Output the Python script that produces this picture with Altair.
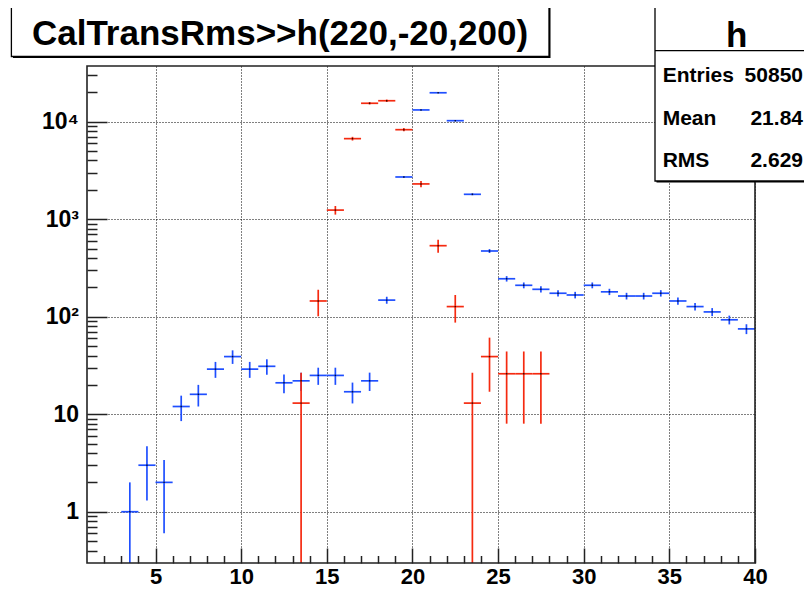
import altair as alt
import pandas as pd

# ---------------- data ----------------
blue_x = [3.5, 4.5, 5.5, 6.5, 7.5, 8.5, 9.5, 10.5, 11.5, 12.5, 13.5, 14.5, 15.5,
          16.5, 17.5, 18.5, 19.5, 20.5, 21.5, 22.5, 23.5, 24.5, 25.5, 26.5, 27.5,
          28.5, 29.5, 30.5, 31.5, 32.5, 33.5, 34.5, 35.5, 36.5, 37.5, 38.5, 39.5]
blue_y = [1, 3, 2, 12, 16, 29, 39, 29, 31, 21, 22, 25, 25,
          17, 22, 148, 2710, 13200, 19800, 10240, 1800, 472, 245, 210, 191,
          174, 167, 210, 180, 163, 163, 174, 145, 127, 112, 93, 75]
blue_err = [1, 1.7, 1.4, 3.5, 4, 5.4, 6.2, 5.4, 5.6, 4.6, 4.7, 5, 5,
            4.1, 4.7, 12.2, 52, 115, 141, 101, 42, 22, 15.7, 14.5, 13.8,
            13.2, 12.9, 14.5, 13.4, 12.8, 12.8, 13.2, 12, 11.3, 10.6, 9.6, 8.7]

red_x = [13.5, 14.5, 15.5, 16.5, 17.5, 18.5, 19.5, 20.5, 21.5, 22.5, 23.5,
         24.5, 25.5, 26.5, 27.5]
red_y = [13, 145, 1240, 6700, 15450, 16400, 8280, 2300, 535, 127, 13,
         39, 26, 26, 26]
red_err = [13.6, 44, 126, 292, 443, 456, 324, 171, 82, 40, 13.6,
           22, 18, 18, 18]

x_label_values = [5, 10, 15, 20, 25, 30, 35, 40]
x_tick_values = list(range(2, 41))
y_label_values = [1, 10, 100, 1000, 10000]
y_tick_values = [m * 10 ** e for e in range(-1, 5) for m in range(1, 10)
                 if 0.35 <= m * 10 ** e <= 35000]

title_text = "CalTransRms>>h(220,-20,200)"
stats_name = "h"
stats_labels = ["Entries", "Mean", "RMS"]
stats_values = ["50850", "21.84", "2.629"]

# ---------------- layout ----------------
W, H = 668, 497
PL, PT, PR, PB = 79, 58, 49, 26
FONT = "Liberation Sans, Arial, Helvetica, sans-serif"
BLUE = "#1f4fff"
RED = "#f52a10"
AX = "#222222"


def frame(xs, ys, es):
    df = pd.DataFrame({"x": xs, "y": ys, "err": es})
    df["x0"] = df["x"] - 0.5
    df["x1"] = df["x"] + 0.5
    df["hi"] = df["y"] + df["err"]
    df["lo"] = (df["y"] - df["err"]).clip(lower=0.05)
    return df


blue = frame(blue_x, blue_y, blue_err)
red = frame(red_x, red_y, red_err)

xs = alt.Scale(domain=[1, 40], nice=False, zero=False)
ys = alt.Scale(type="log", domain=[0.298, 37250], nice=False)

ax_x_lab = alt.Axis(orient="bottom", values=x_label_values, title=None,
                    labelFont=FONT, labelFontSize=22, labelFontWeight="bold",
                    labelColor="black", labelPadding=3, labelFlush=False,
                    labelOverlap=False, labelBound=False,
                    grid=True, gridDash=[1, 2], gridColor="black", gridWidth=1,
                    gridOpacity=1, domain=False, ticks=False, tickSize=0, zindex=0)
ax_y_lab = alt.Axis(orient="left", values=y_label_values, title=None,
                    labelExpr="datum.value >= 9999 ? '10\u2074' : datum.value >= 999 ? '10\u00b3' : datum.value >= 99 ? '10\u00b2' : datum.value >= 9 ? '10' : '1'",
                    labelFont=FONT, labelFontSize=23, labelFontWeight="bold",
                    labelColor="black", labelPadding=8.5, labelFlush=False,
                    labelOverlap=False, labelBound=False,
                    grid=True, gridDash=[1, 2], gridColor="black", gridWidth=1,
                    gridOpacity=1, domain=False, ticks=False, tickSize=0, zindex=0)
ax_x_tk = alt.Axis(orient="top", offset=-H, values=x_tick_values, title=None,
                   labels=False, domain=False, grid=False, ticks=True,
                   tickSize={"condition": {"test": "datum.value % 5 === 0", "value": 15}, "value": 7.5},
                   tickColor=AX, tickWidth=1.5)
ax_y_tk = alt.Axis(orient="right", offset=-W, values=y_tick_values, title=None,
                   labels=False, domain=False, grid=False, ticks=True,
                   tickSize={"condition": {"test": "abs(log(datum.value)/LN10 - round(log(datum.value)/LN10)) < 0.001", "value": 20}, "value": 10},
                   tickColor=AX, tickWidth=1.5)

blue_h = alt.Chart(blue).mark_rule(color=BLUE, strokeWidth=1.7, clip=True).encode(
    x=alt.X("x0:Q", scale=xs, axis=ax_x_lab), x2="x1:Q",
    y=alt.Y("y:Q", scale=ys, axis=ax_y_lab))
blue_v = alt.Chart(blue).mark_rule(color=BLUE, strokeWidth=1.7, clip=True).encode(
    x=alt.X("x:Q", scale=xs, axis=None),
    y=alt.Y("lo:Q", scale=ys, axis=None), y2="hi:Q")
red_h = alt.Chart(red).mark_rule(color=RED, strokeWidth=1.7, clip=True).encode(
    x=alt.X("x0:Q", scale=xs, axis=ax_x_tk), x2="x1:Q",
    y=alt.Y("y:Q", scale=ys, axis=ax_y_tk))
red_v = alt.Chart(red).mark_rule(color=RED, strokeWidth=1.7, clip=True).encode(
    x=alt.X("x:Q", scale=xs, axis=None),
    y=alt.Y("lo:Q", scale=ys, axis=None), y2="hi:Q")
dots_b = alt.Chart(blue).mark_square(size=2, color="black", opacity=0.8, clip=True).encode(
    x=alt.X("x:Q", scale=xs, axis=None), y=alt.Y("y:Q", scale=ys, axis=None))
dots_r = alt.Chart(red).mark_square(size=2, color="black", opacity=0.8, clip=True).encode(
    x=alt.X("x:Q", scale=xs, axis=None), y=alt.Y("y:Q", scale=ys, axis=None))

one = pd.DataFrame({"k": [0]})

plot_frame = alt.Chart(one).mark_rect(fill=None, stroke=AX, strokeWidth=1.6).encode(
    x=alt.value(0), x2=alt.value(W), y=alt.value(0), y2=alt.value(H))

title_shadow = alt.Chart(one).mark_rect(fill="black").encode(
    x=alt.value(-74), x2=alt.value(463.5), y=alt.value(-58), y2=alt.value(-8))
title_box = alt.Chart(one).mark_rect(fill="white", stroke="black", strokeWidth=1.3).encode(
    x=alt.value(-75.6), x2=alt.value(462), y=alt.value(-59.3), y2=alt.value(-9.5))
title_txt = alt.Chart(one).mark_text(text=title_text, font=FONT, fontSize=35,
                                     fontWeight="bold", align="center",
                                     baseline="alphabetic", color="black").encode(
    x=alt.value(193), y=alt.value(-21))

stats_shadow = alt.Chart(one).mark_rect(fill="black").encode(
    x=alt.value(569.5), x2=alt.value(760), y=alt.value(-57), y2=alt.value(116.5))
stats_box = alt.Chart(one).mark_rect(fill="white", stroke="black", strokeWidth=1.3).encode(
    x=alt.value(568), x2=alt.value(760), y=alt.value(-58.7), y2=alt.value(115))
stats_div = alt.Chart(one).mark_rule(color="black", strokeWidth=1.3).encode(
    x=alt.value(568), x2=alt.value(760), y=alt.value(-15.3))
stats_head = alt.Chart(one).mark_text(text=stats_name, font=FONT, fontSize=35,
                                      fontWeight="bold", align="center",
                                      baseline="alphabetic", color="black").encode(
    x=alt.value(649.7), y=alt.value(-19.3))

stat_layers = []
for lab, val, yy in zip(stats_labels, stats_values, [15.7, 59, 100.7]):
    stat_layers.append(alt.Chart(one).mark_text(text=lab, font=FONT, fontSize=21,
                                                fontWeight="bold", align="left",
                                                baseline="alphabetic", color="black").encode(
        x=alt.value(575.7), y=alt.value(yy)))
    stat_layers.append(alt.Chart(one).mark_text(text=val, font=FONT, fontSize=21,
                                                fontWeight="bold", align="right",
                                                baseline="alphabetic", color="black").encode(
        x=alt.value(716), y=alt.value(yy)))

chart = alt.layer(
    blue_h, blue_v, red_h, red_v, dots_b, dots_r, plot_frame,
    title_shadow, title_box, title_txt,
    stats_shadow, stats_box, stats_div, stats_head, *stat_layers
).resolve_axis(x="independent", y="independent").properties(
    width=W, height=H,
    autosize=alt.AutoSizeParams(type="none"),
    padding={"left": PL, "top": PT, "right": PR, "bottom": PB},
    background="white",
).configure_view(stroke=None)

chart.save("out.html", embed_options={"renderer": "svg", "actions": False})
